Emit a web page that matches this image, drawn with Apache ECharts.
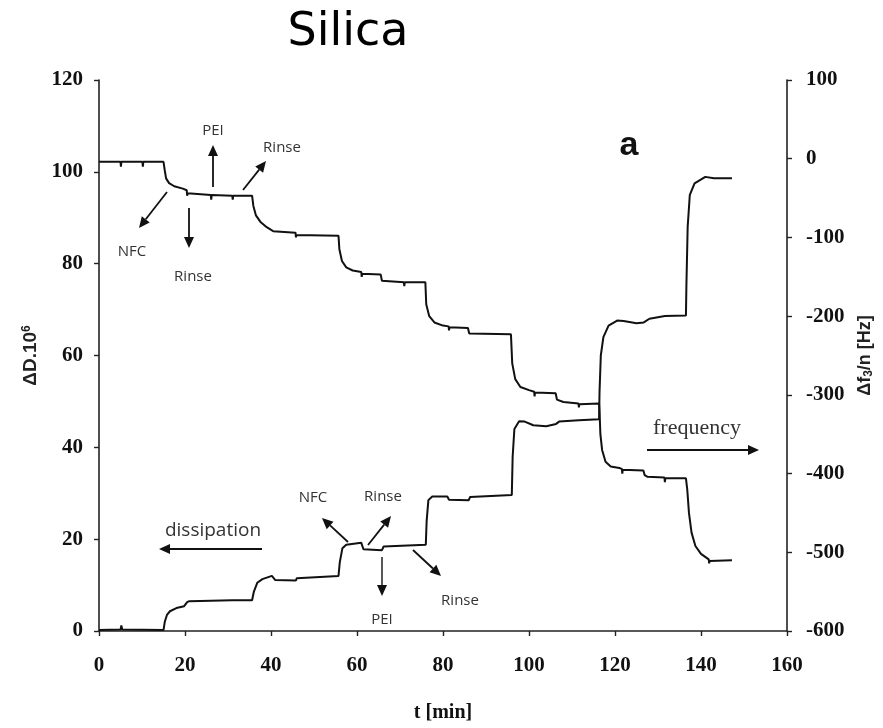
<!DOCTYPE html>
<html>
<head>
<meta charset="utf-8">
<script src="https://cdn.jsdelivr.net/npm/echarts@6/dist/echarts.min.js"></script>
<style>html,body{margin:0;padding:0;background:#fff}#c{width:883px;height:728px}</style>
</head>
<body>
<div id="c"></div>
<script>
// ---- data ----
const xTicks = [0, 20, 40, 60, 80, 100, 120, 140, 160];
const leftTicks = [0, 20, 40, 60, 80, 100, 120];
const rightTicks = [-600, -500, -400, -300, -200, -100, 0, 100];

// frequency: t [min] and Δf3/n [Hz]
const freqT = [0, 5.0, 5.1, 5.2, 10.1, 10.2, 10.3, 15.0, 15.3, 15.6, 16.3, 17.5, 19.5, 20.4, 20.5, 20.6, 21, 26, 26.1, 26.2, 31, 31.1, 31.2, 35.6, 35.9, 36.5, 37.5, 39, 40.5, 45.7, 45.8, 45.9, 55.7, 55.9, 56.5, 57.5, 59, 61, 61.1, 61.2, 65.5, 65.8, 66.2, 70.9, 71, 71.1, 75.9, 76.1, 76.8, 78, 80, 81.3, 81.4, 81.5, 85.8, 86.1, 86.5, 95.8, 96.1, 96.8, 98, 100, 101.2, 101.3, 101.4, 106.2, 106.5, 108, 111.5, 111.6, 111.7, 116.3, 116.4, 116.6, 117, 117.8, 119, 121, 121.6, 121.7, 121.8, 126.6, 126.9, 127.5, 131.5, 131.6, 131.7, 136.5, 136.8, 137.2, 137.8, 138.7, 140, 141.8, 141.9, 142, 147.2];
const freqHz = [-4, -4, -10, -4, -4, -10, -4, -4, -15, -25, -31, -35, -38, -40, -47, -44, -45, -46, -52, -46, -47, -52, -47, -47, -60, -72, -80, -87, -92, -94, -100, -97, -98, -115, -130, -138, -142, -144, -150, -146, -147, -155, -156, -157, -162, -157, -157, -185, -200, -208, -212, -213, -218, -214, -215, -222, -223, -223, -260, -280, -290, -294, -296, -302, -297, -298, -306, -309, -311, -316, -312, -311, -320, -350, -370, -385, -391, -393, -394, -400, -395, -396, -402, -404, -405, -411, -406, -406, -420, -450, -475, -492, -502, -509, -514, -511, -510];

// dissipation: t [min] and ΔD.10^6
const dissT = [0, 5, 5.2, 5.4, 15, 15.3, 15.8, 16.5, 18, 19.8, 20.5, 21, 26, 31, 35.6, 36, 36.8, 38, 40.2, 41, 45.8, 46, 55.7, 56, 56.6, 57.5, 61, 61.5, 65.8, 66.2, 76, 76.2, 76.6, 77.5, 81, 81.4, 86, 86.3, 96, 96.2, 96.6, 97.7, 99, 101, 104, 106.3, 107, 111.6, 116.3, 116.4, 116.7, 117.3, 118.5, 120.5, 122, 125, 126.7, 128, 131.6, 136.5, 136.6, 136.9, 137.4, 138.5, 141, 143, 147.2];
const dissD = [0.2, 0.3, 1.2, 0.3, 0.2, 2, 3.5, 4.3, 5, 5.4, 6.3, 6.5, 6.6, 6.7, 6.7, 8.5, 10.5, 11.3, 12, 11.1, 11, 11.5, 12, 15, 18, 18.8, 19.2, 17.8, 17.6, 18.4, 18.8, 24, 28.5, 29.3, 29.3, 28.6, 28.5, 29.2, 29.6, 38, 44, 45.7, 45.6, 44.8, 44.6, 45.1, 45.6, 45.9, 46.1, 52, 60, 64, 66.5, 67.6, 67.5, 67, 67.2, 68, 68.6, 68.7, 75, 88, 95, 97.5, 98.9, 98.6, 98.6];

const freqData = freqT.map((t, i) => [t, freqHz[i]]);
const dissData = dissT.map((t, i) => [t, dissD[i]]);

// ---- chart ----
const chart = echarts.init(document.getElementById('c'));
const tickFont = { fontFamily: 'Liberation Serif', fontWeight: 'bold', fontSize: 21, color: '#111' };
const axisLine = { show: true, lineStyle: { color: '#222', width: 1.6 } };
const axisTick = { show: true, inside: false, length: 5, lineStyle: { color: '#222', width: 1.4 } };
const annFont = 'Open Sans';

function arrow(x1, y1, x2, y2, w) {
  const ang = Math.atan2(y2 - y1, x2 - x1);
  const L = 11, H = 5;
  const bx = x2 - L * Math.cos(ang), by = y2 - L * Math.sin(ang);
  const px = -Math.sin(ang) * H, py = Math.cos(ang) * H;
  return [
    { type: 'line', silent: true, shape: { x1: x1, y1: y1, x2: bx, y2: by }, style: { stroke: '#111', lineWidth: w || 1.8 } },
    { type: 'polygon', silent: true, shape: { points: [[x2, y2], [bx + px, by + py], [bx - px, by - py]] }, style: { fill: '#111' } }
  ];
}
function label(x, y, text, size, family, weight, color) {
  return { type: 'text', silent: true, x: x, y: y, style: { text: text, fill: color || '#333', font: (weight || 'normal') + ' ' + (size || 14) + 'px "' + (family || annFont) + '"', textAlign: 'center', textVerticalAlign: 'middle' } };
}

const graphics = [].concat(
  [label(348, 33, 'Silica', 46, 'DejaVu Sans', 'normal', '#000')],
  [label(629, 146, 'a', 34, 'Liberation Sans', 'bold', '#111')],
  [label(213, 131, 'PEI', 15)], arrow(213, 187, 213, 145),
  [label(282, 148, 'Rinse', 15)], arrow(243, 190, 266, 161),
  [label(132, 252, 'NFC', 15)], arrow(167, 192, 139, 228),
  [label(193, 277, 'Rinse', 15)], arrow(189, 208, 189, 248),
  [label(313, 498, 'NFC', 15)], arrow(348, 542, 322, 518),
  [label(383, 497, 'Rinse', 15)], arrow(368, 545, 391, 516),
  [label(213, 531, 'dissipation', 19)], arrow(262, 549, 159, 549),
  [label(382, 620, 'PEI', 15)], arrow(382, 557, 382, 596, 1.4),
  [label(460, 601, 'Rinse', 15)], arrow(413, 550, 441, 576),
  [label(697, 428, 'frequency', 22, 'Liberation Serif')], arrow(647, 450, 759, 450)
);

chart.setOption({
  animation: false,
  backgroundColor: '#fff',
  grid: { left: 99, right: 95, top: 80, bottom: 95, containLabel: false },
  xAxis: {
    type: 'value', min: xTicks[0], max: xTicks[xTicks.length - 1], interval: 20,
    name: 't [min]', nameLocation: 'middle', nameGap: 72,
    nameTextStyle: { fontFamily: 'Liberation Serif', fontWeight: 'bold', fontSize: 20, color: '#111' },
    axisLine: axisLine, axisTick: axisTick, splitLine: { show: false },
    axisLabel: Object.assign({ margin: 24 }, tickFont)
  },
  yAxis: [
    {
      type: 'value', min: leftTicks[0], max: leftTicks[leftTicks.length - 1], interval: 20, position: 'left',
      name: 'ΔD.10{s|6}', nameLocation: 'middle', nameGap: 56, nameRotate: 90,
      nameTextStyle: { fontFamily: 'Liberation Sans', fontWeight: 'bold', fontSize: 19, color: '#222',
        rich: { s: { fontFamily: 'Liberation Sans', fontWeight: 'bold', fontSize: 12, verticalAlign: 'top', padding: [0, 0, 8, 0] } } },
      axisLine: axisLine, axisTick: axisTick, splitLine: { show: false },
      axisLabel: Object.assign({ margin: 16 }, tickFont)
    },
    {
      type: 'value', min: rightTicks[0], max: rightTicks[rightTicks.length - 1], interval: 100, position: 'right',
      name: 'Δf{s|3}/n [Hz]', nameLocation: 'middle', nameGap: 68, nameRotate: 90,
      nameTextStyle: { fontFamily: 'Liberation Sans', fontWeight: 'bold', fontSize: 18, color: '#222',
        rich: { s: { fontFamily: 'Liberation Sans', fontWeight: 'bold', fontSize: 12, verticalAlign: 'bottom', padding: [8, 0, 0, 0] } } },
      axisLine: axisLine, axisTick: axisTick, splitLine: { show: false },
      axisLabel: Object.assign({ margin: 19 }, tickFont)
    }
  ],
  series: [
    { name: 'frequency', type: 'line', yAxisIndex: 1, data: freqData, showSymbol: false, lineStyle: { color: '#111', width: 2 }, z: 3 },
    { name: 'dissipation', type: 'line', yAxisIndex: 0, data: dissData, showSymbol: false, lineStyle: { color: '#111', width: 2 }, z: 3 }
  ],
  graphic: graphics
});
</script>
</body>
</html>
